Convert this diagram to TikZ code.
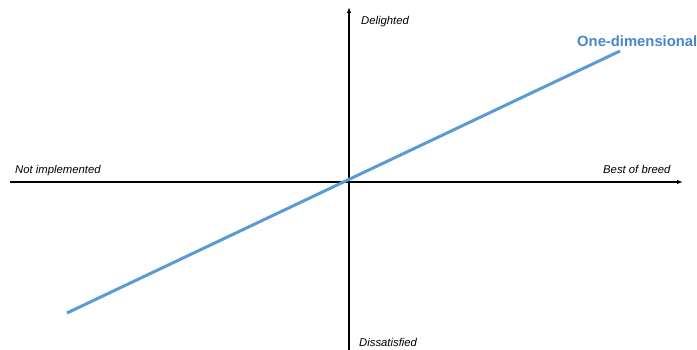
\documentclass[tikz,border=0pt]{standalone}
\usepackage{fontspec}
\setmainfont{Liberation Sans}
\usetikzlibrary{arrows.meta}
\definecolor{lineblue}{RGB}{91,155,213}
\definecolor{textblue}{RGB}{70,135,200}
\tikzset{
  axis/.style={line width=1.3pt,-{Latex[length=6pt,width=4.5pt]}},
  lbl/.style={font=\fontsize{11.3}{13}\selectfont\itshape,inner sep=0pt,anchor=base west},
  trend/.style={line width=3pt,lineblue},
}
\begin{document}
\begin{tikzpicture}[x=1pt,y=-1pt]
\useasboundingbox (0,0) rectangle (697,350);
\coordinate (hl) at (10,182);
\coordinate (hr) at (683,182);
\coordinate (vb) at (349,350);
\coordinate (vt) at (349,7);
\draw[axis] (hl) -- (hr);
\draw[axis] (vb) -- (vt);
\coordinate (ts) at (67,313);
\coordinate (te) at (620,51);
\draw[trend] (ts) -- (te);
\node[lbl] (ni) at (15,174) {Not implemented};
\node[lbl] (bb) at (603,174) {Best of breed};
\node[lbl] (de) at (361,25) {Delighted};
\node[lbl] (ds) at (359,346) {Dissatisfied};
\node[font=\fontsize{14.8}{17}\selectfont\bfseries,text=textblue,inner sep=0pt,anchor=base west] (od) at (577,47) {One-dimensional};
\end{tikzpicture}
\end{document}
